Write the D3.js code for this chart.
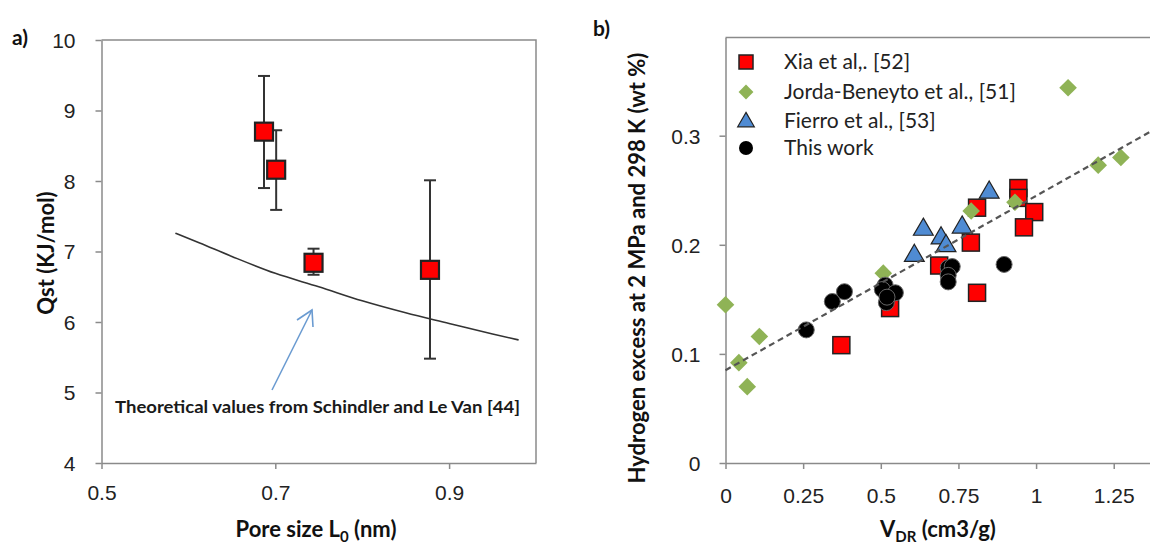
<!DOCTYPE html>
<html>
<head>
<meta charset="utf-8">
<script src="https://cdn.jsdelivr.net/npm/d3@7"></script>
<style>
  body { margin: 0; background: #fff; }
  svg { display: block; font-family: Lato, "Open Sans", sans-serif; }
  .tick text { font-size: 21px; fill: #222; }
  .axis path, .axis line { stroke: #8a8a8a; stroke-width: 1.5; }
  .title { font-weight: bold; font-size: 22px; fill: #111; }
</style>
</head>
<body>
<div class="chart-container"></div>
<script>
// Panel a : Qst vs pore size
const poreSize = [0.687, 0.701, 0.744, 0.878];
const qst      = [8.70, 8.16, 6.84, 6.74];
const qstLow   = [7.90, 7.59, 6.67, 5.48];
const qstHigh  = [9.49, 8.72, 7.04, 8.01];
// theoretical curve (Schindler and Le Van)
const theoryX = [0.585, 0.613, 0.65, 0.70, 0.75, 0.80, 0.85, 0.90, 0.95, 0.98];
const theoryY = [7.26, 7.12, 6.93, 6.69, 6.50, 6.30, 6.13, 5.98, 5.83, 5.745];
const aXTicks = [0.5, 0.7, 0.9];
const aYTicks = [4, 5, 6, 7, 8, 9, 10];

// Panel b : hydrogen excess vs V_DR
const xiaX = [0.373, 0.53, 0.81, 0.688, 0.79, 0.81, 0.943, 0.943, 0.994, 0.961];
const xiaY = [0.108, 0.142, 0.156, 0.181, 0.202, 0.234, 0.252, 0.243, 0.230, 0.216];
const jordaX = [0.0, 0.109, 0.043, 0.07, 0.508, 0.791, 0.932, 1.20, 1.273, 1.103];
const jordaY = [0.145, 0.116, 0.092, 0.070, 0.174, 0.231, 0.239, 0.273, 0.280, 0.344];
const fierroX = [0.608, 0.637, 0.694, 0.71, 0.762, 0.849];
const fierroY = [0.190, 0.214, 0.206, 0.199, 0.216, 0.248];
const workX = [0.26, 0.344, 0.383, 0.514, 0.505, 0.547, 0.518, 0.52, 0.717, 0.73, 0.717, 0.717, 0.897];
const workY = [0.122, 0.148, 0.157, 0.163, 0.159, 0.156, 0.147, 0.152, 0.179, 0.180, 0.172, 0.166, 0.182];
const trendX = [0, 1.37];
const trendY = [0.085, 0.304];
const bXTicks = [0, 0.25, 0.5, 0.75, 1, 1.25];
const bYTicks = [0, 0.1, 0.2, 0.3];

const legendNames = ['Xia et al,. [52]', 'Jorda-Beneyto et al., [51]', 'Fierro et al., [53]', 'This work'];

const svg = d3.select('.chart-container').append('svg')
  .attr('width', 1150).attr('height', 544);

// ---------- panel a ----------
const xA = d3.scaleLinear().domain([0.5, 1.0]).range([101.5, 536]);
const yA = d3.scaleLinear().domain([4, 10]).range([463, 40]);

// plot frame (top + right)
svg.append('path')
  .attr('d', `M${xA(0.5)},${yA(10)}H${xA(1.0)}V${yA(4)}`)
  .attr('fill', 'none').attr('stroke', '#8a8a8a').attr('stroke-width', 1.5);

const aYAxis = svg.append('g').attr('class', 'axis')
  .attr('transform', `translate(${xA(0.5)},0)`)
  .call(d3.axisLeft(yA).tickValues(aYTicks).tickSize(6).tickSizeOuter(0).tickPadding(20).tickFormat(d3.format('d')));
const aXAxis = svg.append('g').attr('class', 'axis')
  .attr('transform', `translate(0,${yA(4)})`)
  .call(d3.axisBottom(xA).tickValues(aXTicks).tickSize(6).tickSizeOuter(0).tickFormat(d3.format('.1f')));
aXAxis.selectAll('text').attr('dy', null).attr('y', 37);
aYAxis.selectAll('text').attr('dy', '0.35em');

// theory curve
const theoryLine = d3.line().x(d => xA(d[0])).y(d => yA(d[1])).curve(d3.curveMonotoneX);
svg.append('path')
  .attr('d', theoryLine(d3.zip(theoryX, theoryY)))
  .attr('fill', 'none').attr('stroke', '#333').attr('stroke-width', 1.6);

// error bars
const errG = svg.append('g');
poreSize.forEach((p, i) => {
  const cx = xA(p);
  errG.append('line').attr('x1', cx).attr('x2', cx)
    .attr('y1', yA(qstLow[i])).attr('y2', yA(qstHigh[i]))
    .attr('stroke', '#333').attr('stroke-width', 2);
  [qstLow[i], qstHigh[i]].forEach(v => {
    errG.append('line').attr('x1', cx - 6).attr('x2', cx + 6)
      .attr('y1', yA(v)).attr('y2', yA(v))
      .attr('stroke', '#333').attr('stroke-width', 2);
  });
});

// squares
svg.append('g').selectAll('rect')
  .data(d3.zip(poreSize, qst))
  .join('rect')
  .attr('x', d => xA(d[0]) - 9).attr('y', d => yA(d[1]) - 9)
  .attr('width', 18).attr('height', 18)
  .attr('fill', '#ff0000').attr('stroke', '#222').attr('stroke-width', 2.2);

// annotation + arrow
svg.append('text')
  .attr('x', 115).attr('y', 413)
  .attr('textLength', 405).attr('lengthAdjust', 'spacingAndGlyphs')
  .style('font-weight', 'bold').style('font-size', '17px').style('fill', '#1a1a1a')
  .text('Theoretical values from Schindler and Le Van [44]');
const arrow = svg.append('g').attr('stroke', '#6a9bd1').attr('stroke-width', 1.6).attr('fill', 'none');
arrow.append('line').attr('x1', 272).attr('y1', 390).attr('x2', 312).attr('y2', 310);
arrow.append('path').attr('d', 'M297,320 L312,310 L313,327');

// titles
svg.append('text').attr('class', 'title')
  .attr('transform', 'translate(54,253) rotate(-90)')
  .attr('text-anchor', 'middle').text('Qst (KJ/mol)');
const aXTitle = svg.append('text').attr('class', 'title')
  .attr('x', 316).attr('y', 537).attr('text-anchor', 'middle');
aXTitle.append('tspan').text('Pore size L');
aXTitle.append('tspan').text('0').attr('dy', 5).style('font-size', '15px');
aXTitle.append('tspan').text(' (nm)').attr('dy', -5);
svg.append('text').attr('class', 'title').attr('x', 12).attr('y', 45)
  .style('font-size', '21px').text('a)');

// ---------- panel b ----------
const xB = d3.scaleLinear().domain([0, 1.37]).range([725.5, 1151]);
const yB = d3.scaleLinear().domain([0, 0.39]).range([463, 37.5]);

svg.append('line').attr('x1', xB(0)).attr('x2', 1150)
  .attr('y1', yB(0.39)).attr('y2', yB(0.39))
  .attr('stroke', '#8a8a8a').attr('stroke-width', 1.5);

const bYAxis = svg.append('g').attr('class', 'axis')
  .attr('transform', `translate(${xB(0)},0)`)
  .call(d3.axisLeft(yB).tickValues(bYTicks).tickSize(6).tickSizeOuter(0).tickPadding(19).tickFormat(d3.format('~g')));
bYAxis.selectAll('text').attr('dy', '0.35em');
const bXAxis = svg.append('g').attr('class', 'axis')
  .attr('transform', `translate(0,${yB(0)})`)
  .call(d3.axisBottom(xB).tickValues(bXTicks).tickSize(6).tickSizeOuter(0).tickFormat(d3.format('~g')));
bXAxis.selectAll('text').attr('dy', null).attr('y', 40);

const plotB = svg.append('g');
const sym = (type, size) => d3.symbol().type(type).size(size)();

// Xia squares
plotB.append('g').selectAll('rect')
  .data(d3.zip(xiaX, xiaY)).join('rect')
  .attr('x', d => xB(d[0]) - 8.5).attr('y', d => yB(d[1]) - 8.5)
  .attr('width', 17).attr('height', 17)
  .attr('fill', '#ff0000').attr('stroke', '#222').attr('stroke-width', 1.5);
// Jorda diamonds
plotB.append('g').selectAll('path')
  .data(d3.zip(jordaX, jordaY)).join('path')
  .attr('transform', d => `translate(${xB(d[0])},${yB(d[1])}) rotate(45)`)
  .attr('d', sym(d3.symbolSquare, 155))
  .attr('fill', '#8fb356');
// Fierro triangles
plotB.append('g').selectAll('path')
  .data(d3.zip(fierroX, fierroY)).join('path')
  .attr('transform', d => `translate(${xB(d[0])},${yB(d[1])})`)
  .attr('d', sym(d3.symbolTriangle, 170))
  .attr('fill', '#4f8bd3').attr('stroke', '#222').attr('stroke-width', 1.2);
// this work circles
plotB.append('g').selectAll('circle')
  .data(d3.zip(workX, workY)).join('circle')
  .attr('cx', d => xB(d[0])).attr('cy', d => yB(d[1])).attr('r', 8)
  .attr('fill', '#000').attr('stroke', '#666').attr('stroke-width', 1);

// trend line
svg.append('path')
  .attr('d', d3.line().x(d => xB(d[0])).y(d => yB(d[1]))(d3.zip(trendX, trendY)))
  .attr('stroke', '#555').attr('stroke-width', 2.2).attr('stroke-dasharray', '6,4').attr('fill', 'none');

// legend
const legend = svg.append('g').attr('transform', 'translate(746,0)');
const rowY = [62, 92, 121, 148];
legend.append('rect').attr('x', -7).attr('y', rowY[0] - 7).attr('width', 14).attr('height', 14)
  .attr('fill', '#ff0000').attr('stroke', '#222').attr('stroke-width', 1.5);
legend.append('path').attr('transform', `translate(0,${rowY[1]}) rotate(45)`)
  .attr('d', sym(d3.symbolSquare, 110)).attr('fill', '#8fb356');
legend.append('path').attr('transform', `translate(0,${rowY[2] + 1})`)
  .attr('d', sym(d3.symbolTriangle, 120)).attr('fill', '#4f8bd3').attr('stroke', '#222').attr('stroke-width', 1.2);
legend.append('circle').attr('cx', 0).attr('cy', rowY[3]).attr('r', 7).attr('fill', '#000');
legend.selectAll('text.leg').data(legendNames).join('text').attr('class', 'leg')
  .attr('x', 38).attr('y', (d, i) => rowY[i]).attr('dy', '0.35em')
  .style('font-size', '21px').style('fill', '#222')
  .text(d => d);

// titles
svg.append('text').attr('class', 'title')
  .attr('transform', 'translate(645,268) rotate(-90)')
  .attr('text-anchor', 'middle').text('Hydrogen excess at 2 MPa and 298 K (wt %)');
const bXTitle = svg.append('text').attr('class', 'title')
  .attr('x', 938).attr('y', 537).attr('text-anchor', 'middle');
bXTitle.append('tspan').text('V');
bXTitle.append('tspan').text('DR').attr('dy', 5).style('font-size', '15px');
bXTitle.append('tspan').text(' (cm3/g)').attr('dy', -5);
svg.append('text').attr('class', 'title').attr('x', 593).attr('y', 36)
  .style('font-size', '21px').text('b)');
</script>
</body>
</html>
